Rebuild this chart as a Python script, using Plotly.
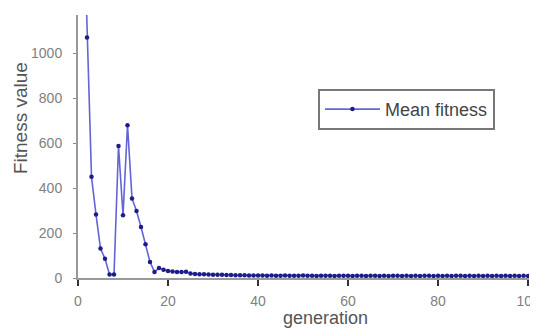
import plotly.graph_objects as go

generation = list(range(1, 101))
mean_fitness = [
    1800, 1070, 450, 282, 131, 86, 16, 16, 587, 279,
    680, 354, 298, 227, 150, 71, 27, 45, 37, 31,
    29, 27, 27, 28, 20, 18, 17, 17, 16, 15,
    14, 14, 13, 13, 12, 12, 12, 11, 11, 11,
    11, 10, 11, 10, 10, 11, 10, 10, 10, 11,
    10, 10, 9, 10, 10, 10, 9, 10, 10, 10,
    9, 10, 10, 9, 10, 10, 9, 10, 9, 10,
    10, 9, 10, 9, 10, 9, 10, 10, 9, 10,
    9, 10, 9, 10, 10, 9, 10, 9, 10, 9,
    10, 9, 10, 9, 10, 9, 10, 9, 10, 9,
]
x_ticks = [0, 20, 40, 60, 80, 100]
y_ticks = [0, 200, 400, 600, 800, 1000]

fig = go.Figure()
fig.add_trace(go.Scatter(
    x=generation, y=mean_fitness, mode="lines+markers",
    name="Mean fitness",
    line=dict(color="#6464d8", width=1.6),
    marker=dict(color="#1c1c8a", size=4.5),
))

fig.update_layout(
    width=538, height=329,
    margin=dict(l=70, r=17, t=7, b=59),
    paper_bgcolor="white", plot_bgcolor="white",
    font=dict(family="Liberation Sans, Arial, sans-serif", color="#777777"),
    showlegend=True,
    legend=dict(
        x=0.532, y=0.719, xanchor="left", yanchor="top",
        bordercolor="#777777", borderwidth=2,
        font=dict(size=18, color="#444444"),
        bgcolor="white", itemwidth=55,
    ),
    xaxis=dict(
        range=[0, 100.2], tickvals=x_ticks, ticktext=[str(v) for v in x_ticks],
        showgrid=False, zeroline=False, showline=True,
        linecolor="#999999", linewidth=2,
        ticks="outside", ticklen=6, tickwidth=1.5, tickcolor="#333333",
        tickfont=dict(size=14, color="#808080"), ticklabelstandoff=3,
    ),
    yaxis=dict(
        range=[0, 1170], tickvals=y_ticks, ticktext=[str(v) for v in y_ticks],
        showgrid=False, zeroline=False, showline=True,
        linecolor="#999999", linewidth=2,
        ticks="outside", ticklen=3, tickwidth=1, tickcolor="#888888",
        tickfont=dict(size=14, color="#808080"), ticklabelstandoff=8,
    ),
    annotations=[
        dict(text="generation", xref="paper", yref="paper", x=0.548, y=-0.152,
             xanchor="center", yanchor="middle", showarrow=False,
             font=dict(size=18, color="#555555")),
        dict(text="Fitness value", xref="paper", yref="paper", x=-0.1286, y=0.608,
             xanchor="center", yanchor="middle", showarrow=False, textangle=-90,
             font=dict(size=19, color="#555555")),
    ],
)

fig.write_html("out.html")
